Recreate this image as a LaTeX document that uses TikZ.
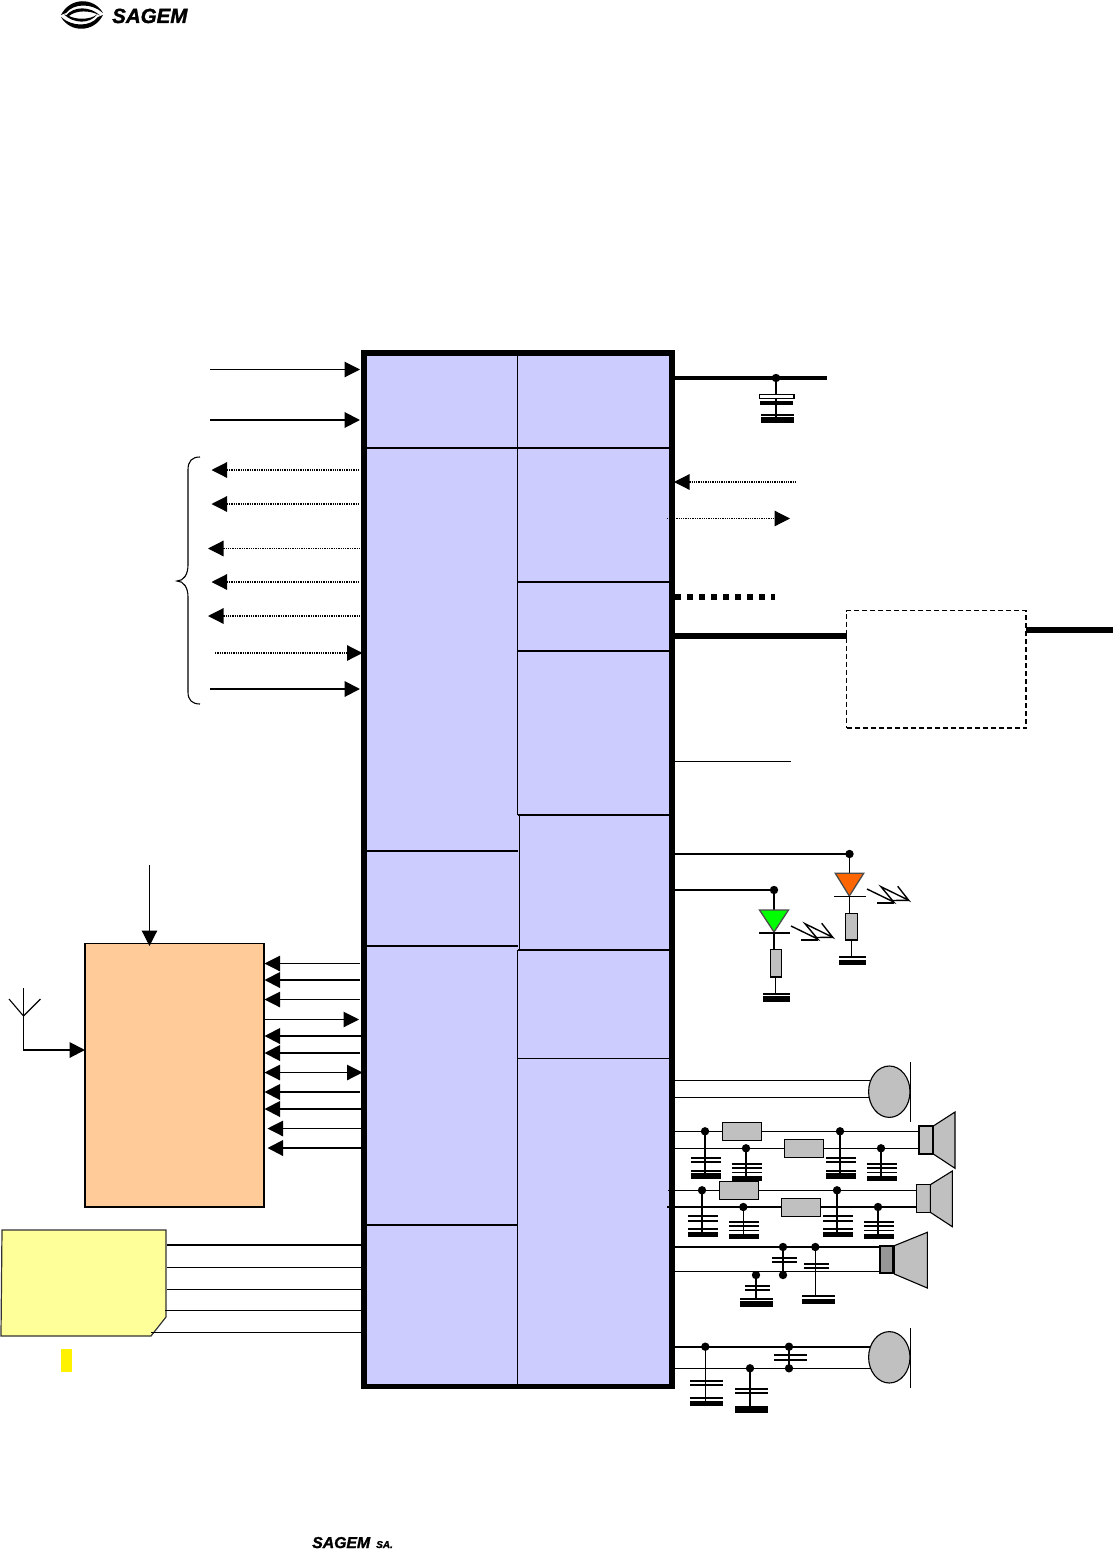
\documentclass[tikz,border=0pt]{standalone}
\usepackage{fontspec}
\setmainfont{Liberation Sans}
\newfontfamily\logofont[UprightFont=* Bold Italic,FakeBold=1.5]{Liberation Sans}
\usetikzlibrary{arrows.meta}
\definecolor{blockblue}{HTML}{CCCCFF}
\definecolor{rforange}{HTML}{FFCC99}
\definecolor{simyellow}{HTML}{FFFF99}
\definecolor{partgray}{HTML}{C0C0C0}
\definecolor{ledorange}{HTML}{FF6600}
\tikzset{
  blockbox/.style={draw,anchor=north west,inner sep=0pt,outer sep=0pt},
  thinw/.style={line width=1.1pt},
  medw/.style={line width=2pt},
  tri/.style={-{Triangle[length=15.5pt,width=15.5pt]}},
  ltri/.style={{Triangle[length=15.5pt,width=15.5pt]}-},
  lrtri/.style={{Triangle[length=15.5pt,width=15.5pt]}-{Triangle[length=15.5pt,width=15.5pt]}},
  dotw/.style={line width=1.2pt,dash pattern=on 1.3pt off 1pt},
  divider/.style={line width=1.1pt},
  partbox/.style={fill=partgray,draw=black,line width=1.5pt},
}
\newcommand\jd[2]{\fill (#1,#2) circle (4.2);}
\newcommand\plate[3]{\draw[line width=1.8pt] (#1,#3) -- (#2,#3);}
\newcommand\gbar[4]{\fill (#1,#3) rectangle (#2,#4);}
\newcommand\res[4]{\filldraw[partbox] (#1,#3) rectangle (#2,#4);}
\newcommand\capA[3]{%
  \draw[line width=1.5pt] (#1,#2) -- (#1,#3+20);
  \plate{#1-14}{#1+16}{#3}\plate{#1-14}{#1+16}{#3+4.3}\plate{#1-14}{#1+16}{#3+13}
  \gbar{#1-14}{#1+16}{#3+15.6}{#3+21}
  \jd{#1}{#2}}
\newcommand\capB[3]{%
  \draw[line width=1.5pt] (#1,#2) -- (#1,#3+16);
  \plate{#1-14}{#1+16}{#3}\plate{#1-14}{#1+16}{#3+4.2}\plate{#1-14}{#1+16}{#3+8.8}
  \gbar{#1-14}{#1+16}{#3+12.4}{#3+17.5}
  \jd{#1}{#2}}
\newcommand\zap[2]{%
  \begin{scope}[shift={(#1,#2)},line width=1.4pt]
    \draw (0,0) -- (26.7,13) -- (14,-2.3) -- (41.7,11.3) -- (30.7,-2.7);
    \draw (10,14) -- (26.7,14);
    \draw (24,11.5) -- (41.7,11.3);
  \end{scope}}
\begin{document}
\begin{tikzpicture}[x=1pt,y=-1pt]
\useasboundingbox (0,0) rectangle (1113,1549);
\fill[white] (0,0) rectangle (1113,1549);

% ---------- logo ----------
\fill (61,15) .. controls (70,-3) and (94,-3) .. (103,13)
  .. controls (92,3) and (74,3) .. (66,13) -- cycle;
\fill (103,15) .. controls (94,33) and (70,33) .. (61,17)
  .. controls (72,27) and (90,27) .. (98,17) -- cycle;
\fill (66,15.5) .. controls (74,6) and (90,6) .. (100,15.5)
  .. controls (90,10) and (76,10) .. (69,16) -- cycle;
\fill (64,14.5) .. controls (74,24) and (90,24) .. (97,14.5)
  .. controls (90,20) and (76,20) .. (68,15.5) -- cycle;
\node[anchor=base west,inner sep=0pt] (logotext) at (112,23) {\fontsize{20.5}{20.5}\logofont SAGEM};
\node[anchor=base west,inner sep=0pt] (footname) at (312,1548) {\fontsize{15.8}{15.8}\logofont SAGEM};
\node[anchor=base west,inner sep=0pt] (footsa) at (376,1548) {\fontsize{10}{10}\logofont SA.};

% ---------- main block ----------
\node[blockbox,fill=blockblue,draw=none,minimum width=308pt,minimum height=1033.5pt] (main) at (364,353) {};
\draw[divider] (364,448) -- (672,448);
\draw[divider] (364,851) -- (518,851);
\draw[divider] (364,946) -- (518,946);
\draw[line width=1.6pt] (364,1225) -- (518,1225);
\draw[divider] (518,582) -- (672,582);
\draw[divider] (518,651) -- (672,651);
\draw[divider] (518,815) -- (672,815);
\draw[divider] (518,950) -- (672,950);
\draw[line width=1.6pt] (518,1058.5) -- (672,1058.5);
\draw[divider] (517.8,353) -- (517.8,815);
\draw[line width=1.5pt] (519.3,815) -- (519.3,950);
\draw[divider] (517.8,950) -- (517.8,1387);
\node[blockbox,draw=black,line width=5.5pt,minimum width=308pt,minimum height=1033.5pt] (mainframe) at (364,353) {};
\coordinate (mL) at (360,0);
\coordinate (mLa) at (361.5,0);
\coordinate (mR) at (674.5,0);
\coordinate (mRa) at (669.5,0);

% ---------- left signals ----------
\draw[thinw,tri] (210,369.5) -- (mL |- 0,369.5);
\draw[medw,tri] (210,420) -- (mL |- 0,420);
\draw[dotw,ltri] (211.5,470) -- (mL |- 0,470);
\draw[dotw,ltri] (211.5,504) -- (mL |- 0,504);
\draw[dotw,ltri] (208,548.5) -- (mL |- 0,548.5);
\draw[dotw,ltri] (211.5,582) -- (mL |- 0,582);
\draw[dotw,ltri] (208,616) -- (mL |- 0,616);
\draw[dotw,tri] (215,653) -- (362.5,653);
\draw[medw,tri] (210,689) -- (mL |- 0,689);
\draw[line width=1.1pt] (200,457) .. controls (192,457) and (188,461) .. (188,470)
  -- (188,565) .. controls (188,574) and (184,581) .. (177,581)
  .. controls (184,581) and (188,588) .. (188,597)
  -- (188,692) .. controls (188,700) and (192,704) .. (200,704);

% ---------- RF block ----------
\node[blockbox,fill=rforange,draw=black,line width=1.6pt,minimum width=179pt,minimum height=263.5pt] (rf) at (85,943.5) {};
\coordinate (rfR) at (264.5,0);
\coordinate (rfR2) at (267.5,0);
\draw[thinw,tri] (149.5,865) -- (149.5,946);
\draw[thinw,ltri] (rfR |- 0,963.5) -- (mL |- 0,963.5);
\draw[medw,ltri] (rfR |- 0,980) -- (mL |- 0,980);
\draw[thinw,ltri] (rfR |- 0,999.5) -- (mL |- 0,999.5);
\draw[thinw,tri] (rfR |- 0,1019.5) -- (359,1019.5);
\draw[medw,ltri] (rfR |- 0,1036) -- (mLa |- 0,1036);
\draw[medw,ltri] (rfR |- 0,1053) -- (mL |- 0,1053);
\draw[thinw,lrtri] (rfR |- 0,1072.5) -- (362.5,1072.5);
\draw[medw,ltri] (rfR |- 0,1092) -- (mL |- 0,1092);
\draw[medw,ltri] (rfR |- 0,1109) -- (mLa |- 0,1109);
\draw[thinw,ltri] (rfR2 |- 0,1128.5) -- (mLa |- 0,1128.5);
\draw[medw,ltri] (rfR2 |- 0,1148) -- (mLa |- 0,1148);

% antenna
\coordinate (antbase) at (23.5,1016);
\draw[thinw] (23.5,988) -- (antbase);
\draw[thinw] (9,999) -- (antbase) -- (40.5,999);
\draw[thinw] (antbase) -- (23.5,1050);
\draw[medw,tri] (23,1050) -- (rf.west |- 0,1050);

% ---------- SIM ----------
\draw[fill=simyellow,draw=black!80,line width=1.2pt] (2,1230) -- (166,1230) -- (166,1317) -- (151,1336) -- (1,1336) -- cycle;
\coordinate (simR) at (167,0);
\draw[medw] (simR |- 0,1245) -- (mLa |- 0,1245);
\draw[thinw] (simR |- 0,1267.5) -- (mLa |- 0,1267.5);
\draw[thinw] (simR |- 0,1289.5) -- (mLa |- 0,1289.5);
\draw[thinw] (165,1310.5) -- (mLa |- 0,1310.5);
\draw[thinw] (151,1332.5) -- (mLa |- 0,1332.5);
\fill[yellow] (61,1349) rectangle (72,1372);

% ---------- right, top ----------
\draw[line width=3.5pt] (mR |- 0,378) -- (827,378);
\draw[line width=1.1pt] (776,378) -- (776,420);
\draw[fill=white,draw=black,line width=1.5pt] (759.5,394.5) rectangle (794,398.5);
\gbar{760}{793}{401}{405}
\gbar{761}{794}{414}{415.8}
\gbar{761}{794}{417}{423}
\jd{776}{378}
\draw[dotw,ltri] (674,482) -- (796,482);
\draw[dotw,tri] (667,518.5) -- (790,518.5);
\draw[line width=6pt,dash pattern=on 6pt off 6pt] (675,597) -- (775,597);
\node[blockbox,draw=black,fill=white,line width=1.1pt,dash pattern=on 5pt off 3pt,minimum width=179.5pt,minimum height=117.5pt] (dashbox) at (846.5,610.5) {};
\draw[line width=5.5pt] (mR |- 0,636) -- (dashbox.west |- 0,636);
\draw[line width=5.5pt] (dashbox.east |- 0,630) -- (1113,630);
\draw[thinw] (mR |- 0,761.5) -- (791,761.5);

% ---------- LEDs ----------
\draw[line width=2.2pt] (mR |- 0,854) -- (849.5,854);
\draw[thinw] (mR |- 0,890) -- (774,890);
% orange
\draw[thinw] (849.5,854) -- (849.5,873);
\draw[fill=ledorange,draw=black!70,line width=1.3pt] (835.3,873.3) -- (863.7,873.3) -- (849.3,896) -- cycle;
\draw[thinw] (834,896.5) -- (866,896.5);
\draw[thinw] (849.5,896) -- (849.5,913);
\res{845.3}{857.3}{913.3}{940}
\draw[thinw] (851.5,940) -- (851.5,958);
\plate{839}{866}{957.3}
\gbar{839}{866}{960}{965}
\jd{849.5}{854}
\zap{867}{889}
% green
\draw[line width=2pt] (774,890) -- (774,910);
\draw[fill=green,draw=black!70,line width=1.3pt] (759.5,910) -- (788.5,910) -- (774,932) -- cycle;
\draw[line width=1.7pt] (759,932.7) -- (790,932.7);
\draw[line width=1.7pt] (774,933) -- (774,950);
\res{770.5}{781.5}{949.5}{977}
\draw[thinw] (775.5,977) -- (775.5,994);
\plate{763}{790}{994}
\gbar{763}{790}{996}{1002}
\jd{774}{890}
\zap{791}{926}

% ---------- mic 1 ----------
\draw[thinw] (mR |- 0,1080.3) -- (870,1080.3);
\draw[thinw] (mR |- 0,1097.7) -- (870,1097.7);
\draw[fill=partgray,draw=black,line width=1.1pt] (889.3,1091.7) ellipse (20.7 and 25.7);
\draw[thinw] (910.3,1062) -- (910.3,1121.7);

% ---------- speaker 1 ----------
\draw[thinw] (mR |- 0,1131.3) -- (919,1131.3);
\draw[thinw] (mR |- 0,1148.3) -- (919,1148.3);
\res{722.3}{761.7}{1122.7}{1140.3}
\res{784.3}{823.7}{1139.3}{1157.3}
\capA{705}{1131.3}{1157.7}
\capB{746}{1148.3}{1163.7}
\capA{840}{1131.3}{1157.7}
\capB{881}{1148.3}{1163.7}
\draw[fill=partgray,draw=black,line width=2pt] (919,1126) rectangle (933.3,1154);
\draw[fill=partgray,draw=black,line width=1.1pt] (933.3,1126) -- (955,1112) -- (955,1168.3) -- (933.3,1154) -- cycle;

% ---------- speaker 2 ----------
\draw[thinw] (668,1190.3) -- (917,1190.3);
\draw[thinw] (667,1207) -- (917,1207);
\res{719.3}{758.7}{1181.7}{1199.3}
\res{781.3}{820.7}{1198.7}{1216.3}
\capA{702}{1190.3}{1216.3}
\capB{743.3}{1207}{1221.7}
\capA{837}{1190.3}{1216.3}
\capB{878}{1207}{1221.7}
\draw[fill=partgray,draw=black,line width=1.1pt] (916.7,1184.7) rectangle (930.3,1212.3);
\draw[fill=partgray,draw=black,line width=1.1pt] (930.3,1184.7) -- (952.3,1171) -- (952.3,1226.7) -- (930.3,1212.3) -- cycle;

% ---------- speaker 3 ----------
\draw[medw] (mR |- 0,1247) -- (880,1247);
\draw[thinw] (mR |- 0,1271.3) -- (880,1271.3);
\draw[thinw] (783,1247) -- (783,1275);
\plate{772}{797}{1257.7}\plate{772}{797}{1262}
\jd{783}{1247}\jd{783}{1275}
\draw[thinw] (815.3,1247) -- (815.3,1296);
\plate{804}{829}{1263.7}\plate{804}{829}{1268.3}
\plate{802}{835}{1296}\gbar{802}{835}{1298.7}{1304}
\jd{815.3}{1247}
\draw[line width=2pt] (756,1275) -- (756,1300);
\plate{745}{770}{1285.7}\plate{745}{770}{1290}
\plate{740}{773}{1298.7}\gbar{740}{773}{1301}{1306.7}
\jd{756}{1275}
\draw[fill=black!41,draw=black,line width=2pt] (880,1245.7) rectangle (892.7,1273);
\draw[fill=partgray,draw=black,line width=1.1pt] (894.3,1245.7) -- (927.3,1232.3) -- (927.3,1288) -- (894.3,1274) -- cycle;

% ---------- mic 2 ----------
\draw[line width=2.2pt] (mR |- 0,1346.7) -- (872,1346.7);
\draw[thinw] (mR |- 0,1368.3) -- (872,1368.3);
\draw[thinw] (705.3,1346.7) -- (705.3,1403);
\plate{690}{723}{1380.7}\plate{690}{723}{1385}
\plate{690}{723}{1397.7}\gbar{690}{723}{1400.7}{1405.7}
\jd{705.3}{1346.7}
\draw[line width=2pt] (789,1346.7) -- (789,1368.3);
\plate{774}{807}{1355.3}\plate{774}{807}{1360}
\jd{789}{1346.7}\jd{789}{1368.3}
\draw[line width=2pt] (750,1368.3) -- (750,1406);
\plate{735}{768}{1388.7}\plate{735}{768}{1392.7}
\gbar{735}{768}{1405.5}{1412.7}
\jd{750}{1368.3}
\draw[fill=partgray,draw=black,line width=1.1pt] (889.3,1357.3) ellipse (20.7 and 25.7);
\draw[thinw] (910.3,1328.3) -- (910.3,1387.7);
\end{tikzpicture}
\end{document}
